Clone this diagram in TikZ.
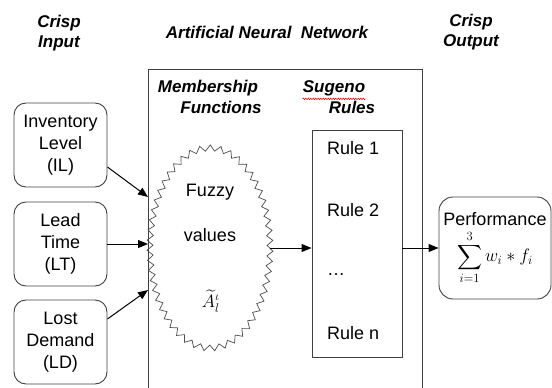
\RequirePackage{fix-cm}
\documentclass[tikz,border=0pt]{standalone}
\usepackage{exscale}
\usepackage{fontspec}
\setmainfont{Liberation Sans}
\usetikzlibrary{arrows.meta,shapes.geometric}
\usetikzlibrary{decorations.pathmorphing}
\tikzstyle{heading}=[font=\fontsize{17}{20}\selectfont\bfseries\itshape,align=center,inner sep=0pt]
\tikzstyle{txt}=[font=\fontsize{18}{22}\selectfont,align=center,inner sep=0pt]
\tikzstyle{inbox}=[txt,draw=black!75,line width=0.9pt,rounded corners=12pt,minimum width=93pt,minimum height=84pt]
\tikzstyle{fuzzyset}=[ellipse,draw=black!70,line width=0.7pt,minimum width=120pt,minimum height=200pt,decorate,decoration={zigzag,segment length=10pt,amplitude=3pt}]
\tikzstyle{rulebox}=[draw=black!75,line width=0.9pt,minimum width=90pt,minimum height=227pt,inner sep=0pt]
\tikzstyle{outbox}=[txt,draw=black!75,line width=0.9pt,rounded corners=14pt,minimum width=112pt,minimum height=102pt]
\tikzstyle{frame}=[draw=black!75,line width=0.9pt]
\tikzstyle{edge}=[draw,line width=1pt,-{Triangle[length=10pt,width=8pt]}]

\begin{document}
\begin{tikzpicture}[x=1pt,y=-1pt]
\useasboundingbox (0,0) rectangle (552,388);

    % column headings
    \node[heading] (crispin) at (59,33) {Crisp\\Input};
    \node[heading] (ann) at (267,32) {Artificial Neural~~Network};
    \node[heading] (crispout) at (471,32) {Crisp\\Output};

    % the network frame, open at the bottom
    \draw[frame] (148,388) -- (148,69) -- (422,69) -- (422,388);
    \node[heading] (memb1) at (208,88) {Membership};
    \node[heading] (memb2) at (221,107) {Functions};
    \node[heading] (sug1) at (334,88) {Sugeno};
    \node[heading] (sug2) at (352,107) {Rules};
    \draw[red,line width=0.5pt,decorate,decoration={zigzag,segment length=2.5pt,amplitude=0.8pt}]
        ([yshift=-3pt]sug1.south west) -- ([yshift=-3pt]sug1.south east);

    % crisp inputs
    \foreach \pos/ \name/ \text in {{(60.5,145)/IL/{Inventory\\Level\\(IL)}}, {(60.5,244)/LT/{Lead\\Time\\(LT)}}, {(60.5,342)/LD/{Lost\\Demand\\(LD)}}}
        \node[inbox] (\name) at \pos {\text};

    % membership functions
    \node[fuzzyset] (mf) at (210,248) {};
    \node[txt] (fz1) at (210,192) {Fuzzy};
    \node[txt] (fz2) at (210,235) {values};
    \node[txt] (fz3) at (211,301) {$\widetilde{A}_{l}^{\iota}$};

    % sugeno rules
    \node[rulebox] (rules) at (357,243.5) {};
    \foreach \y/ \name/ \text in {148/r1/{Rule 1}, 210/r2/{Rule 2}, 275/rdots/{\dots}, 333/rn/{Rule n}}
        \node[txt,anchor=west] (\name) at (327,\y) {\text};

    % crisp output
    \node[outbox] (perf) at (495,248) {Performance\\[4pt]$\displaystyle\sum_{i=1}^{3} w_i * f_i$};

    \coordinate (inA) at (148,197);
    \coordinate (inB) at (148,244);
    \coordinate (inC) at (148,290);
    \draw[edge] ([yshift=-22pt]IL.east) -- (inA);
    \draw[edge] (LT.east) -- (inB);
    \draw[edge] ([yshift=23pt]LD.east) -- (inC);
    \draw[edge] (mf.east) -- (mf.east -| rules.west);
    \draw[edge] (rules.east |- perf.west) -- (perf.west);

\end{tikzpicture}
\end{document}
